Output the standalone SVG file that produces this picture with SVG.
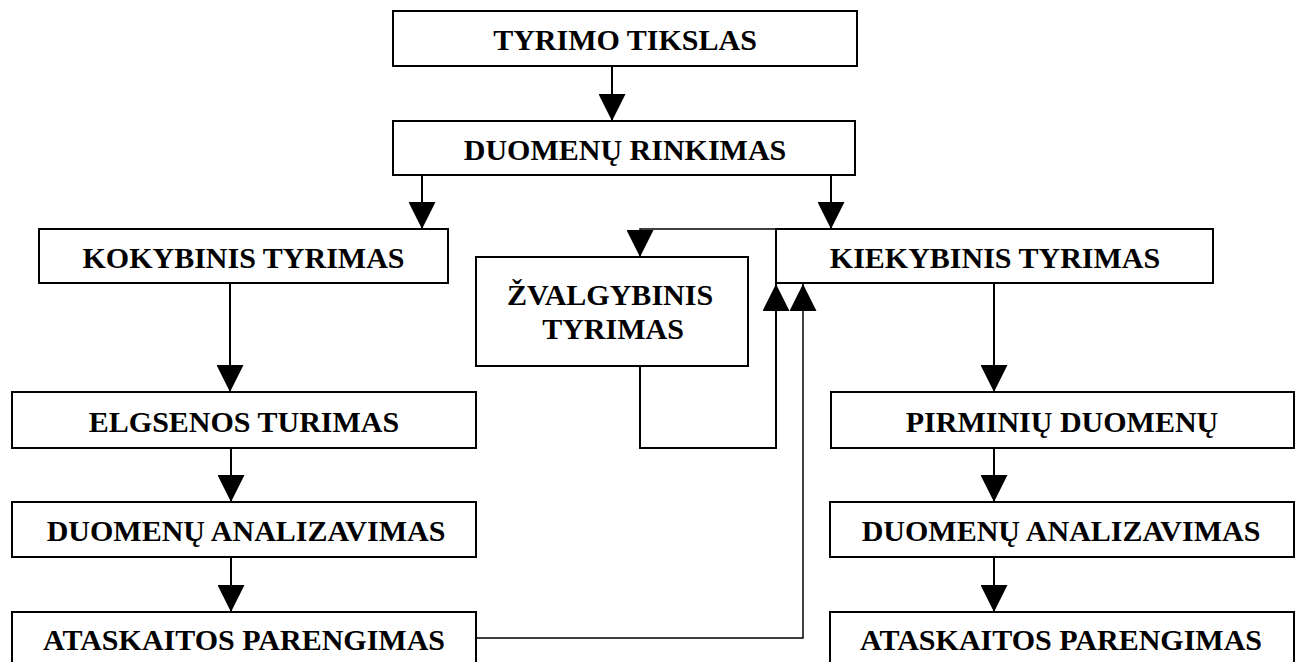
<svg xmlns="http://www.w3.org/2000/svg" width="1302" height="662" viewBox="0 0 1302 662">
  <style>
    .box { fill: #ffffff; stroke: #000000; stroke-width: 2; }
    .lbl { font-family: "Liberation Serif", "Times New Roman", serif; font-weight: bold; font-size: 30px; fill: #000000; text-anchor: middle; }
    .wire { fill: none; stroke: #000000; stroke-width: 2; }
    .wire-thin { fill: none; stroke: #000000; stroke-width: 1.5; }
  </style>
  <defs>
    <marker id="head" markerUnits="userSpaceOnUse" viewBox="0 0 27 27" markerWidth="27" markerHeight="27" refX="27" refY="13.5" orient="auto">
      <path d="M0,0 L27,13.5 L0,27 Z" fill="#000000"/>
    </marker>
  </defs>
  <rect width="1302" height="662" fill="#ffffff"/>

  <g id="connectors">
    <line class="wire" x1="612" y1="66" x2="612" y2="121" marker-end="url(#head)"/>
    <line class="wire" x1="422" y1="175" x2="422" y2="229" marker-end="url(#head)"/>
    <line class="wire" x1="831" y1="175" x2="831" y2="229" marker-end="url(#head)"/>
    <polyline class="wire-thin" points="776,229 640,229 640,257" marker-end="url(#head)"/>
    <polyline class="wire" points="640,366 640,448 776,448 776,284" marker-end="url(#head)"/>
    <polyline class="wire-thin" points="476,638 803,638 803,284" marker-end="url(#head)"/>
    <line class="wire" x1="230" y1="283" x2="230" y2="392" marker-end="url(#head)"/>
    <line class="wire" x1="231" y1="448" x2="231" y2="502" marker-end="url(#head)"/>
    <line class="wire" x1="231" y1="557" x2="231" y2="612" marker-end="url(#head)"/>
    <line class="wire" x1="994" y1="283" x2="994" y2="392" marker-end="url(#head)"/>
    <line class="wire" x1="994" y1="448" x2="994" y2="502" marker-end="url(#head)"/>
    <line class="wire" x1="994" y1="557" x2="994" y2="612" marker-end="url(#head)"/>
  </g>

  <g id="tyrimo-tikslas">
    <rect class="box" x="393" y="11" width="464" height="55"/>
    <text class="lbl" x="625" y="50">TYRIMO TIKSLAS</text>
  </g>
  <g id="duomenu-rinkimas">
    <rect class="box" x="393" y="121" width="462" height="54"/>
    <text class="lbl" x="625" y="160">DUOMENŲ RINKIMAS</text>
  </g>
  <g id="kokybinis-tyrimas">
    <rect class="box" x="39" y="229" width="409" height="54"/>
    <text class="lbl" x="243.5" y="268">KOKYBINIS TYRIMAS</text>
  </g>
  <g id="zvalgybinis-tyrimas">
    <rect class="box" x="476" y="257" width="272" height="109"/>
    <text class="lbl" x="610" y="305">ŽVALGYBINIS</text>
    <text class="lbl" x="613" y="339">TYRIMAS</text>
  </g>
  <g id="kiekybinis-tyrimas">
    <rect class="box" x="776" y="229" width="437" height="54"/>
    <text class="lbl" x="995" y="268">KIEKYBINIS TYRIMAS</text>
  </g>
  <g id="elgsenos-turimas">
    <rect class="box" x="12" y="392" width="464" height="56"/>
    <text class="lbl" x="244" y="432">ELGSENOS TURIMAS</text>
  </g>
  <g id="duomenu-analizavimas-kair">
    <rect class="box" x="12" y="502" width="464" height="55"/>
    <text class="lbl" x="246" y="541">DUOMENŲ ANALIZAVIMAS</text>
  </g>
  <g id="ataskaitos-parengimas-kair">
    <rect class="box" x="12" y="612" width="464" height="60"/>
    <text class="lbl" x="244" y="650">ATASKAITOS PARENGIMAS</text>
  </g>
  <g id="pirminiu-duomenu">
    <rect class="box" x="831" y="392" width="463" height="56"/>
    <text class="lbl" x="1062" y="432">PIRMINIŲ DUOMENŲ</text>
  </g>
  <g id="duomenu-analizavimas-desin">
    <rect class="box" x="830" y="502" width="464" height="55"/>
    <text class="lbl" x="1061" y="541">DUOMENŲ ANALIZAVIMAS</text>
  </g>
  <g id="ataskaitos-parengimas-desin">
    <rect class="box" x="830" y="612" width="464" height="60"/>
    <text class="lbl" x="1061" y="650">ATASKAITOS PARENGIMAS</text>
  </g>
</svg>
